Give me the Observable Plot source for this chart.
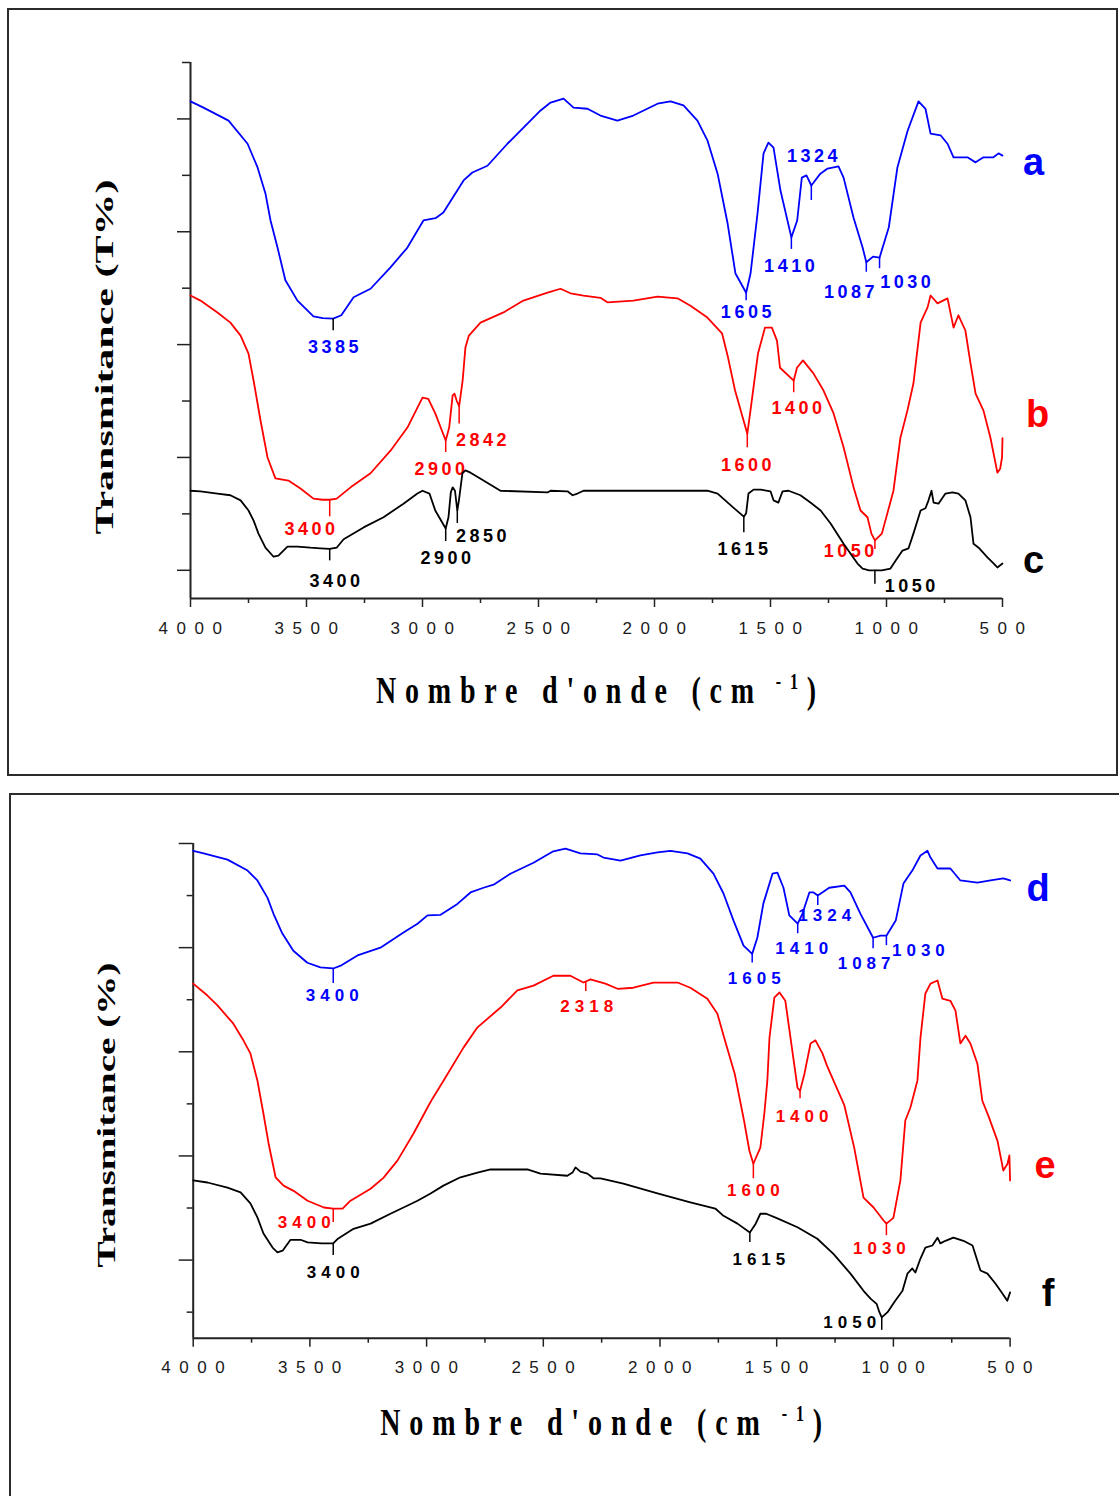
<!DOCTYPE html>
<html>
<head>
<meta charset="utf-8">
<script src="https://cdn.jsdelivr.net/npm/d3@7"></script>
<script src="https://cdn.jsdelivr.net/npm/@observablehq/plot@0.6"></script>
<style>
  html, body { margin: 0; padding: 0; background: #fff; overflow: hidden; }
  body { position: relative; width: 1119px; height: 1496px; }
  .frame { position: absolute; box-sizing: border-box; border: 2px solid #2b2b2b; }
  .panel { position: absolute; left: 0; width: 1119px; }
  .panel svg { display: block; overflow: visible; }
  g[aria-label="x-axis tick label"] text { letter-spacing: 8.5px; }
</style>
</head>
<body>
<div class="frame" style="left:7px;top:8px;width:1111px;height:768px"></div>
<div class="frame" style="left:9px;top:793px;width:1112px;height:760px"></div>
<div class="panel" id="upper" style="top:0"></div>
<div class="panel" id="lower" style="top:780px"></div>
<script>
// FTIR spectra: [wavenumber (cm-1), transmittance (arbitrary offset units)]
const curveA = [[4000,8.81],[3944,8.70],[3836,8.47],[3754,8.06],[3711,7.64],[3677,7.18],[3655,6.70],[3625,6.22],[3591,5.64],[3539,5.28],[3470,5.00],[3430,4.97],[3385,4.96],[3350,5.02],[3297,5.34],[3224,5.49],[3138,5.87],[3065,6.22],[2996,6.70],[2944,6.74],[2910,6.84],[2823,7.41],[2785,7.55],[2720,7.67],[2634,8.06],[2491,8.65],[2448,8.79],[2392,8.86],[2349,8.70],[2289,8.68],[2233,8.56],[2160,8.47],[2091,8.56],[1987,8.77],[1931,8.81],[1875,8.74],[1815,8.47],[1772,8.12],[1728,7.53],[1685,6.65],[1651,5.76],[1605,5.42],[1586,5.76],[1556,6.82],[1530,7.89],[1509,8.08],[1487,7.99],[1457,7.23],[1410,6.40],[1385,6.70],[1365,7.46],[1345,7.50],[1324,7.32],[1285,7.53],[1254,7.62],[1207,7.66],[1185,7.46],[1142,6.75],[1103,6.22],[1087,5.96],[1058,6.06],[1030,6.04],[990,6.58],[953,7.64],[909,8.29],[862,8.81],[832,8.68],[810,8.24],[767,8.21],[737,8.06],[711,7.82],[651,7.82],[616,7.73],[582,7.82],[539,7.82],[517,7.89],[500,7.85]];

const curveB = [[4000,5.37],[3957,5.28],[3884,5.07],[3828,4.89],[3784,4.66],[3750,4.34],[3728,3.86],[3698,3.15],[3668,2.50],[3634,2.13],[3578,2.09],[3526,1.95],[3470,1.77],[3430,1.75],[3400,1.75],[3370,1.77],[3310,1.97],[3224,2.22],[3138,2.62],[3065,3.03],[3000,3.56],[2975,3.54],[2945,3.28],[2900,2.80],[2885,3.03],[2870,3.60],[2862,3.63],[2852,3.50],[2842,3.41],[2827,3.86],[2815,4.45],[2800,4.66],[2750,4.89],[2651,5.07],[2565,5.28],[2461,5.42],[2405,5.49],[2362,5.41],[2306,5.37],[2233,5.33],[2203,5.25],[2091,5.28],[1987,5.35],[1901,5.32],[1845,5.19],[1772,4.98],[1709,4.70],[1683,4.27],[1653,3.69],[1600,2.92],[1588,3.28],[1554,4.34],[1524,4.80],[1494,4.80],[1472,4.57],[1459,4.09],[1400,3.86],[1386,4.09],[1360,4.22],[1315,3.99],[1272,3.69],[1228,3.28],[1185,2.68],[1142,1.97],[1112,1.56],[1082,1.44],[1065,1.15],[1050,1.03],[1020,1.15],[970,1.91],[940,2.85],[910,3.33],[884,3.81],[853,4.89],[823,5.16],[810,5.37],[780,5.23],[737,5.32],[711,4.80],[690,5.02],[660,4.75],[638,4.17],[616,3.63],[582,3.33],[552,2.85],[522,2.23],[510,2.30],[502,2.50],[500,2.84]];

const curveC = [[4000,1.91],[3957,1.90],[3884,1.86],[3828,1.83],[3784,1.74],[3750,1.56],[3728,1.38],[3707,1.15],[3677,0.90],[3642,0.74],[3621,0.76],[3582,0.92],[3539,0.92],[3483,0.90],[3440,0.89],[3400,0.88],[3370,0.90],[3340,1.05],[3254,1.26],[3168,1.44],[3082,1.68],[3022,1.86],[3000,1.91],[2970,1.86],[2945,1.56],[2900,1.24],[2888,1.44],[2878,1.88],[2870,1.97],[2860,1.91],[2850,1.56],[2843,1.74],[2828,2.22],[2815,2.27],[2793,2.23],[2737,2.09],[2664,1.91],[2461,1.88],[2448,1.91],[2375,1.90],[2353,1.83],[2332,1.86],[2306,1.91],[1772,1.91],[1728,1.86],[1660,1.61],[1615,1.45],[1605,1.51],[1595,1.86],[1573,1.93],[1543,1.93],[1500,1.90],[1487,1.74],[1466,1.70],[1448,1.90],[1422,1.91],[1371,1.83],[1328,1.70],[1284,1.56],[1241,1.33],[1185,0.97],[1125,0.62],[1103,0.53],[1075,0.50],[1050,0.50],[1020,0.50],[983,0.53],[961,0.67],[931,0.85],[905,0.89],[884,1.15],[853,1.56],[832,1.60],[819,1.74],[806,1.91],[797,1.70],[776,1.68],[746,1.86],[716,1.88],[690,1.86],[660,1.74],[638,1.44],[625,0.97],[603,0.90],[565,0.73],[543,0.64],[522,0.55],[500,0.62]];

const curveD = [[4000,9.36],[3955,9.31],[3853,9.19],[3767,8.98],[3725,8.79],[3682,8.46],[3656,8.15],[3618,7.77],[3571,7.44],[3511,7.21],[3455,7.12],[3400,7.10],[3365,7.16],[3296,7.35],[3198,7.50],[3099,7.79],[3039,7.96],[2996,8.12],[2940,8.13],[2868,8.34],[2812,8.56],[2756,8.65],[2713,8.71],[2641,8.92],[2542,9.13],[2457,9.35],[2405,9.40],[2341,9.31],[2268,9.29],[2242,9.23],[2169,9.17],[2084,9.27],[2011,9.33],[1955,9.36],[1882,9.31],[1827,9.21],[1771,8.92],[1728,8.54],[1685,8.02],[1642,7.54],[1605,7.38],[1583,7.69],[1557,8.35],[1518,8.92],[1497,8.94],[1471,8.65],[1446,8.12],[1410,7.96],[1390,8.15],[1360,8.56],[1342,8.56],[1324,8.50],[1275,8.65],[1210,8.69],[1184,8.56],[1141,8.15],[1087,7.69],[1055,7.73],[1030,7.73],[990,8.02],[957,8.73],[919,8.98],[884,9.27],[854,9.36],[841,9.23],[811,9.02],[756,9.02],[713,8.79],[640,8.75],[584,8.79],[529,8.83],[500,8.79]];

const curveE = [[4000,6.81],[3939,6.58],[3896,6.39],[3828,6.04],[3785,5.72],[3755,5.47],[3725,4.95],[3699,4.31],[3677,3.74],[3647,3.09],[3613,2.93],[3570,2.83],[3510,2.64],[3440,2.51],[3400,2.49],[3360,2.49],[3326,2.64],[3240,2.87],[3185,3.08],[3125,3.41],[3056,3.93],[2996,4.43],[2975,4.60],[2927,4.95],[2842,5.58],[2782,5.97],[2683,6.35],[2611,6.68],[2542,6.77],[2457,6.96],[2384,6.96],[2328,6.83],[2318,6.85],[2298,6.89],[2234,6.81],[2182,6.71],[2114,6.73],[2028,6.83],[1925,6.83],[1870,6.73],[1797,6.52],[1754,6.23],[1725,5.77],[1680,5.08],[1640,4.18],[1617,3.60],[1600,3.35],[1570,3.66],[1553,4.31],[1540,4.95],[1531,5.77],[1510,6.54],[1488,6.64],[1463,6.48],[1441,5.77],[1411,4.81],[1400,4.75],[1381,5.08],[1355,5.66],[1334,5.72],[1304,5.47],[1285,5.24],[1257,4.95],[1210,4.47],[1168,3.66],[1128,2.70],[1085,2.51],[1042,2.26],[1030,2.20],[1000,2.31],[970,3.03],[949,4.18],[927,4.43],[897,4.95],[884,5.77],[863,6.62],[841,6.81],[811,6.87],[790,6.52],[756,6.48],[734,6.29],[713,5.66],[691,5.81],[670,5.66],[640,5.27],[619,4.56],[593,4.27],[554,3.79],[529,3.22],[511,3.35],[503,3.51],[500,3.03]];

const curveF = [[4000,3.03],[3939,2.99],[3853,2.89],[3797,2.80],[3755,2.59],[3725,2.32],[3699,2.01],[3660,1.74],[3639,1.65],[3617,1.68],[3583,1.89],[3540,1.89],[3510,1.84],[3450,1.82],[3400,1.82],[3380,1.91],[3313,2.10],[3240,2.20],[3155,2.39],[3099,2.51],[3039,2.64],[2983,2.78],[2928,2.93],[2855,3.09],[2782,3.18],[2726,3.24],[2568,3.24],[2512,3.16],[2397,3.12],[2375,3.18],[2362,3.28],[2341,3.20],[2311,3.16],[2285,3.07],[2255,3.07],[2157,2.97],[2011,2.78],[1870,2.61],[1763,2.49],[1728,2.35],[1668,2.20],[1615,2.03],[1590,2.20],[1570,2.39],[1545,2.39],[1497,2.30],[1411,2.13],[1326,1.91],[1257,1.62],[1184,1.24],[1128,0.91],[1098,0.76],[1072,0.66],[1060,0.50],[1050,0.40],[1025,0.50],[995,0.70],[961,0.91],[940,1.24],[919,1.34],[906,1.26],[884,1.53],[863,1.74],[833,1.78],[811,1.93],[799,1.82],[777,1.87],[743,1.93],[700,1.87],[661,1.78],[627,1.30],[597,1.24],[563,1.05],[533,0.86],[512,0.72],[500,0.88]];

// Marked absorption bands (cm-1)
const peaksA = [3385, 1605, 1410, 1324, 1087, 1030];
const peaksB = [3400, 2900, 2842, 1600, 1400, 1050];
const peaksC = [3400, 2900, 2850, 1615, 1050];
const peaksD = [3400, 1605, 1410, 1324, 1087, 1030];
const peaksE = [3400, 2318, 1600, 1400, 1030];
const peaksF = [3400, 1615, 1050];

const seriesNames = ["a", "b", "c", "d", "e", "f"];
const xTicksMajor = [4000, 3500, 3000, 2500, 2000, 1500, 1000, 500];
const xTicksMinor = [3750, 3250, 2750, 2250, 1750, 1250, 750];
const yTicksOdd = [0.5, 2.5, 4.5, 6.5, 8.5];
const yTicksEven = [1.5, 3.5, 5.5, 7.5, 9.5];

// Layout of the band annotations: label offset from the marked point and marker length (px)
const placeA = [{dx:0,dy:29,len:12,ink:"#000"},{dx:0,dy:20,len:8},{dx:-2,dy:29,len:12},{dx:1,dy:-29,len:15},{dx:-17,dy:30,len:10},{dx:26,dy:25,len:11}];
const placeB = [{dx:-20,dy:29,len:17},{dx:-6,dy:29,len:12},{dx:22,dy:34,len:18},{dx:-1,dy:31,len:14},{dx:3,dy:28,len:12},{dx:-26,dy:11,len:9}];
const placeC = [{dx:5,dy:32,len:12},{dx:0,dy:30,len:13},{dx:24,dy:26,len:13},{dx:-1,dy:33,len:16},{dx:35,dy:16,len:14}];
const placeD = [{dx:-1,dy:27,len:15},{dx:2,dy:25,len:9},{dx:4,dy:25,len:10},{dx:7,dy:20,len:10},{dx:-9,dy:26,len:11},{dx:32,dy:15,len:10}];
const placeE = [{dx:-29,dy:14,len:14},{dx:1,dy:25,len:10},{dx:0,dy:27,len:15},{dx:2,dy:26,len:8},{dx:-7,dy:25,len:12}];
const placeF = [{dx:0,dy:29,len:12},{dx:9,dy:27,len:10},{dx:-32,dy:5,len:13}];

const BLUE = "#0000ff", RED = "#ff0000", BLACK = "#000000", AXIS = "#222222";
const SANS = "'Liberation Sans', Arial, Helvetica, sans-serif";
const SERIF = "'Liberation Serif', 'Times New Roman', serif";

// Linear interpolation of a spectrum at a given wavenumber
function valueAt(curve, wn) {
  for (let i = 0; i < curve.length - 1; i++) {
    const [x0, y0] = curve[i], [x1, y1] = curve[i + 1];
    if (wn <= x0 && wn >= x1) return x0 === x1 ? y0 : y0 + (y1 - y0) * (x0 - wn) / (x0 - x1);
  }
  return NaN;
}

function drawPanel(cfg) {
  const W = 1119;
  const innerH = cfg.height - cfg.marginTop - cfg.marginBottom;
  const pxPerUnit = innerH / 9.5;
  const marks = [
    Plot.axisY(cfg.yLong, {tickSize: cfg.yLongSize, tickFormat: () => "", label: null, stroke: AXIS, strokeWidth: 1.5}),
    Plot.axisY(cfg.yShort, {tickSize: cfg.yShortSize, tickFormat: () => "", label: null, stroke: AXIS, strokeWidth: 1.5}),
    Plot.axisX(xTicksMajor, {tickSize: 9, tickPadding: 14, tickFormat: d => String(d), label: null, stroke: AXIS, strokeWidth: 1.5, fill: "#1a1a1a", fontSize: 17, fontFamily: SANS}),
    Plot.axisX(xTicksMinor, {tickSize: 5, tickFormat: () => "", label: null, stroke: AXIS, strokeWidth: 1.5}),
    Plot.ruleY([0], {stroke: AXIS, strokeWidth: 2}),
    Plot.ruleX([4000], {stroke: AXIS, strokeWidth: 2})
  ];
  cfg.series.forEach(s => {
    marks.push(Plot.line(s.curve, {x: d => d[0], y: d => d[1], stroke: s.color, strokeWidth: 1.8}));
    s.peaks.forEach((wn, i) => {
      const pl = s.places[i];
      const p = {wn, t: valueAt(s.curve, wn), label: String(wn)};
      marks.push(Plot.ruleX([p], {x: "wn", y1: "t", y2: d => d.t - pl.len / pxPerUnit, stroke: pl.ink || s.color, strokeWidth: 1.5}));
      marks.push(Plot.text([p], {x: "wn", y: "t", text: "label", dx: pl.dx + cfg.peakSpacing / 2, dy: pl.dy,
        fill: s.color, fontSize: cfg.peakFont, fontWeight: "bold", fontFamily: SANS}));
    });
    const end = s.curve[s.curve.length - 1];
    marks.push(Plot.text([end], {x: d => d[0], y: d => d[1], text: () => s.name, dx: s.nameOffset[0], dy: s.nameOffset[1],
      fill: s.color, fontSize: 38, fontWeight: "bold", fontFamily: SANS}));
  });

  const svg = Plot.plot({
    width: W, height: cfg.height,
    marginTop: cfg.marginTop, marginBottom: cfg.marginBottom,
    marginLeft: cfg.marginLeft, marginRight: cfg.marginRight,
    x: {domain: [4000, 500]},
    y: {domain: [0, 9.5]},
    style: "background: transparent; overflow: visible;",
    marks
  });

  const sel = d3.select(svg);
  const tickLabelGroup = '[aria-label="x-axis tick label"]';
  sel.selectAll(tickLabelGroup + " text").attr("dx", 4);
  // open up the band labels (four-digit wavenumbers outside the axis) like the original figure
  sel.selectAll("text")
    .filter(function () { return !this.closest(tickLabelGroup) && /^\d{4}$/.test(this.textContent.trim()); })
    .attr("letter-spacing", cfg.peakSpacing)
    .style("letter-spacing", cfg.peakSpacing + "px");

  const cx = (cfg.marginLeft + (W - cfg.marginRight)) / 2;
  const xt = sel.append("text")
    .attr("transform", `translate(${cx},${cfg.xTitleBaseline}) scale(1,1.38)`)
    .attr("text-anchor", "middle")
    .attr("font-family", SERIF).attr("font-weight", "bold").attr("font-size", 28).attr("fill", "#000")
    .attr("textLength", cfg.xTitleLength).attr("lengthAdjust", "spacing");
  xt.append("tspan").text("Nombre d'onde (cm");
  xt.append("tspan").attr("font-size", 16).attr("dy", -10).text(" -1");
  xt.append("tspan").attr("dy", 10).text(")");

  sel.append("text")
    .attr("transform", `translate(${cfg.yTitleX},${cfg.yTitleY}) rotate(-90)`)
    .attr("text-anchor", "middle")
    .attr("font-family", SERIF).attr("font-weight", "bold").attr("font-size", 26).attr("fill", "#000")
    .attr("textLength", cfg.yTitleLength).attr("lengthAdjust", "spacingAndGlyphs")
    .text(cfg.yTitle);

  document.getElementById(cfg.id).append(svg);
}

drawPanel({
  id: "upper", height: 780, marginTop: 62, marginBottom: 182, marginLeft: 190, marginRight: 117,
  yLong: yTicksOdd, yShort: yTicksEven, yLongSize: 13, yShortSize: 8,
  peakFont: 18, peakSpacing: 3.5,
  xTitleBaseline: 703, xTitleLength: 440,
  yTitle: "Transmitance (T%)", yTitleX: 113, yTitleY: 357, yTitleLength: 355,
  series: [
    {name: seriesNames[0], curve: curveA, color: BLUE, peaks: peaksA, places: placeA, nameOffset: [31, 7]},
    {name: seriesNames[1], curve: curveB, color: RED, peaks: peaksB, places: placeB, nameOffset: [35, -23]},
    {name: seriesNames[2], curve: curveC, color: BLACK, peaks: peaksC, places: placeC, nameOffset: [31, -3]}
  ]
});

drawPanel({
  id: "lower", height: 716, marginTop: 63, marginBottom: 158.3, marginLeft: 192.7, marginRight: 109.4,
  yLong: yTicksEven, yShort: yTicksOdd, yLongSize: 14, yShortSize: 6,
  peakFont: 17, peakSpacing: 5,
  xTitleBaseline: 655, xTitleLength: 442,
  yTitle: "Transmitance (%)", yTitleX: 115, yTitleY: 335, yTitleLength: 305,
  series: [
    {name: seriesNames[3], curve: curveD, color: BLUE, peaks: peaksD, places: placeD, nameOffset: [28, 8]},
    {name: seriesNames[4], curve: curveE, color: RED, peaks: peaksE, places: placeE, nameOffset: [35, -15]},
    {name: seriesNames[5], curve: curveF, color: BLACK, peaks: peaksF, places: placeF, nameOffset: [38, 1]}
  ]
});
</script>
</body>
</html>
